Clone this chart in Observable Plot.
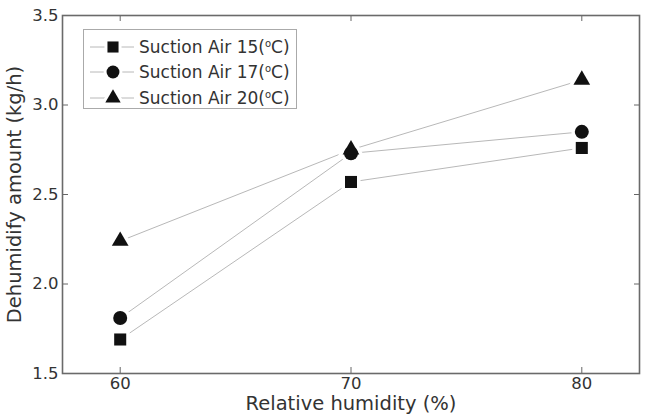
<!DOCTYPE html>
<html>
<head>
<meta charset="utf-8">
<script src="https://cdn.jsdelivr.net/npm/d3@7"></script>
<script src="https://cdn.jsdelivr.net/npm/@observablehq/plot@0.6"></script>
<style>
  html, body { margin: 0; padding: 0; background: #fff; }
  #wrap { position: relative; width: 653px; height: 414px; font-family: "DejaVu Sans", sans-serif; }
  #legend { position: absolute; left: 83px; top: 29px; width: 214px; height: 80px; border: 1px solid #aaa; background: #fff; box-sizing: border-box; }
  .row { position: absolute; left: 0; height: 24px; display: flex; align-items: center; }
  .row span { font-size: 17px; color: #333; margin-left: 2px; white-space: nowrap; }
  .row sup { font-size: 10px; vertical-align: 6px; line-height: 0; }
</style>
</head>
<body>
<div id="wrap"></div>
<script>
const humidity = [60, 70, 80];
const seriesNames = ["Suction Air 15", "Suction Air 17", "Suction Air 20"];
const air15 = [1.69, 2.57, 2.76];
const air17 = [1.81, 2.73, 2.85];
const air20 = [2.24, 2.75, 3.14];
const symbols = ["square", "circle", "triangle"];
const xTicks = [60, 70, 80];
const yTicks = [1.5, 2.0, 2.5, 3.0, 3.5];

const seriesValues = [air15, air17, air20];
const rows = seriesNames.flatMap((name, i) =>
  humidity.map((h, j) => ({series: name, x: h, y: seriesValues[i][j], symbol: symbols[i]})));

const radius = {square: 6.8, circle: 7, triangle: 6.2};

const chart = Plot.plot({
  width: 653,
  height: 414,
  marginTop: 15,
  marginRight: 14,
  marginBottom: 41,
  marginLeft: 62,
  style: {fontFamily: "DejaVu Sans, sans-serif", color: "#333", background: "#fff"},
  x: {domain: [57.5, 82.5]},
  y: {domain: [1.5, 3.5]},
  marks: [
    Plot.axisX({anchor: "bottom", ticks: xTicks, tickSize: -6, tickPadding: 10, fontSize: 16.5, stroke: "#666",
      label: "Relative humidity (%)", labelAnchor: "center", labelArrow: "none", labelOffset: 36}),
    Plot.axisX({anchor: "top", ticks: xTicks, tickSize: -5, tickFormat: () => "", label: null, stroke: "#666"}),
    Plot.axisY({anchor: "left", ticks: yTicks, tickSize: -6, tickPadding: 10, tickFormat: d3.format(".1f"), fontSize: 16.5, stroke: "#666",
      label: "Dehumidify amount (kg/h)", labelAnchor: "center", labelArrow: "none", labelOffset: 55}),
    Plot.axisY({anchor: "right", ticks: yTicks, tickSize: -6, tickFormat: () => "", label: null, stroke: "#666"}),
    Plot.frame({stroke: "#6a6a6a", strokeWidth: 1.6}),
    Plot.line(rows, {x: "x", y: "y", z: "series", stroke: "#b8b8b8", strokeWidth: 1}),
    ...symbols.map(s => Plot.dot(rows.filter(d => d.symbol === s), {x: "x", y: "y", symbol: s, r: radius[s], fill: "#fff", stroke: "#fff", strokeWidth: 7})),
    ...symbols.map(s => Plot.dot(rows.filter(d => d.symbol === s), {x: "x", y: "y", symbol: s, r: radius[s], fill: "#111", stroke: "none"}))
  ]
});
chart.querySelectorAll("[aria-label$='axis label'] text").forEach(t => t.setAttribute("font-size", 19.5));
const wrap = document.getElementById("wrap");
wrap.appendChild(chart);

// legend overlay
const legend = document.createElement("div");
legend.id = "legend";
const typeMap = {square: d3.symbolSquare, circle: d3.symbolCircle, triangle: d3.symbolTriangle};
seriesNames.forEach((name, i) => {
  const row = document.createElement("div");
  row.className = "row";
  row.style.top = (4.5 + i * 25.5) + "px";
  const svg = d3.create("svg").attr("width", 53).attr("height", 24);
  svg.append("line").attr("x1", 6).attr("x2", 50).attr("y1", 12).attr("y2", 12).attr("stroke", "#b8b8b8");
  const r = radius[symbols[i]] * 0.92;
  const sym = d3.symbol(typeMap[symbols[i]], Math.PI * r * r)();
  svg.append("path").attr("transform", "translate(29,12)").attr("d", sym).attr("fill", "#fff").attr("stroke", "#fff").attr("stroke-width", 6);
  svg.append("path").attr("transform", "translate(29,12)").attr("d", sym).attr("fill", "#111");
  row.appendChild(svg.node());
  const label = document.createElement("span");
  label.innerHTML = name + "(<sup>o</sup>C)";
  row.appendChild(label);
  legend.appendChild(row);
});
wrap.appendChild(legend);
</script>
</body>
</html>
